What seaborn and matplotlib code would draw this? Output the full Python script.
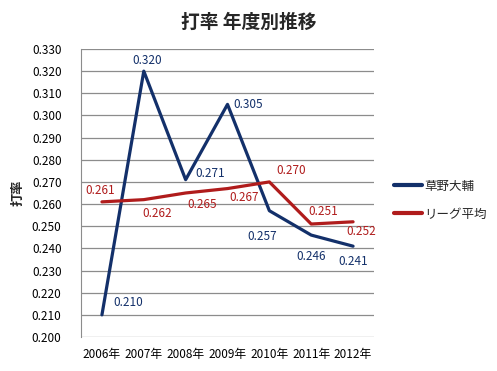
import numpy as np
import pandas as pd
import matplotlib
matplotlib.use("Agg")
import matplotlib.pyplot as plt
import seaborn as sns

years = ["2006年", "2007年", "2008年", "2009年", "2010年", "2011年", "2012年"]
kusano = [0.210, 0.320, 0.271, 0.305, 0.257, 0.246, 0.241]
league = [0.261, 0.262, 0.265, 0.267, 0.270, 0.251, 0.252]
series_names = ["草野大輔", "リーグ平均"]
colors = ["#13306a", "#b01c1c"]

# label offsets (pixels) for each data label
kusano_off = [(26, 12), (3, 11), (25, 6), (21, 0), (-7, -26), (0, -21), (0, -15)]
league_off = [(-2, 11), (13, -14), (17, -12), (17, -9), (22, 11), (12, 13), (8, -10)]

df = pd.DataFrame({"year": years * 2,
                   "avg": kusano + league,
                   "name": [series_names[0]] * 7 + [series_names[1]] * 7})

sns.set_style("white")
plt.rcParams['font.family'] = ['Noto Sans CJK JP', 'DejaVu Sans']

fig = plt.figure(figsize=(4.97, 3.71), dpi=100)
ax = fig.add_axes([0.163, 0.0916, 0.5895, 0.7764])

sns.lineplot(data=df, x="year", y="avg", hue="name", palette=colors,
             linewidth=2.3, ax=ax, sort=False)

ax.set_xlim(-0.5, 6.5)
ax.set_ylim(0.200, 0.330)
ax.set_yticks(np.arange(0.200, 0.3301, 0.010))
ax.yaxis.set_major_formatter(matplotlib.ticker.FormatStrFormatter("%.3f"))
ax.grid(axis="y", color="#8c8c8c", linewidth=0.9)
ax.set_axisbelow(True)
for s in ["top", "right", "bottom"]:
    ax.spines[s].set_visible(False)
ax.spines["left"].set_color("#8c8c8c")
ax.tick_params(axis="both", length=0, labelsize=8.5, colors="black")
ax.tick_params(axis="y", pad=14)
ax.tick_params(axis="x", pad=8)
ax.set_xlabel("")
ax.set_ylabel("打率", fontsize=9.5, labelpad=5, fontweight="bold")

for vals, offs, c in [(kusano, kusano_off, colors[0]), (league, league_off, colors[1])]:
    for i, (v, o) in enumerate(zip(vals, offs)):
        ax.annotate(f"{v:.3f}", (i, v), xytext=o, textcoords="offset pixels",
                    ha="center", va="center", fontsize=8.5, color=c)

fig.suptitle("打率 年度別推移", x=0.5, y=0.965, fontsize=13.5, fontweight="bold")

leg = ax.legend(loc="center left", bbox_to_anchor=(1.03, 0.475), frameon=False,
                fontsize=9, handlelength=2.2, handletextpad=0.2, labelspacing=1.2)
for line in leg.get_lines():
    line.set_linewidth(3)

fig.savefig("out.png", dpi=100)
